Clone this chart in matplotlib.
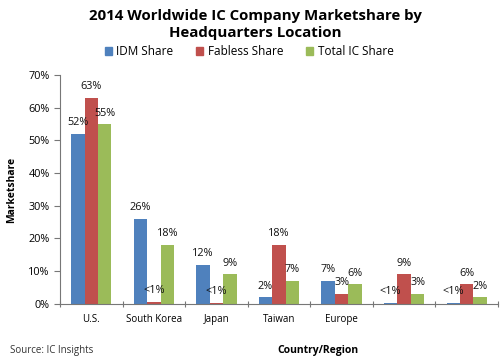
import numpy as np
import matplotlib
matplotlib.use("Agg")
import matplotlib.pyplot as plt
from matplotlib.patches import Patch

plt.rcParams['font.family'] = ['Open Sans', 'DejaVu Sans']

# data
regions = ["U.S.", "South Korea", "Japan", "Taiwan", "Europe", "", ""]
idm = [52, 26, 12, 2, 7, 0.3, 0.3]
fabless = [63, 0.7, 0.3, 18, 3, 9, 6]
total = [55, 18, 9, 7, 6, 3, 2]

idm_lbl = ["52%", "26%", "12%", "2%", "7%", "<1%", "<1%"]
fab_lbl = ["63%", "<1%", "<1%", "18%", "3%", "9%", "6%"]
tot_lbl = ["55%", "18%", "9%", "7%", "6%", "3%", "2%"]

series = [("IDM Share", idm, idm_lbl, "#4F81BD"),
          ("Fabless Share", fabless, fab_lbl, "#C0504D"),
          ("Total IC Share", total, tot_lbl, "#9BBB59")]

fig = plt.figure(figsize=(5.0, 3.63), dpi=100)
ax = fig.add_axes([0.12, 0.163, 0.876, 0.63])

x = np.arange(len(regions))
w = 0.215
for k, (name, vals, lbls, col) in enumerate(series):
    pos = x + (k - 1) * w
    ax.bar(pos, vals, width=w, color=col, label=name)
    for p, v, t in zip(pos, vals, lbls):
        ax.annotate(t, (p, v), xytext=(0, 4), textcoords="offset points",
                    ha="center", va="bottom", fontsize=7.8, color="#111111")

ax.set_xlim(-0.5, len(regions) - 0.5)
ax.set_ylim(0, 0.7 * 100)
ax.set_yticks(np.arange(0, 71, 10))
ax.set_yticklabels(["%d%%" % v for v in range(0, 71, 10)], fontsize=7.8)
ax.set_xticks(np.arange(-0.5, len(regions), 1))
ax.set_xticklabels([])
ax.set_xticks(x, minor=True)
ax.set_xticklabels(regions, minor=True, fontsize=7)
ax.tick_params(axis="x", which="minor", length=0, pad=7)
ax.tick_params(axis="x", which="major", length=4, direction="inout", color="#777777")
ax.tick_params(axis="y", length=4, color="#777777")
for s in ["top", "right"]:
    ax.spines[s].set_visible(False)
ax.spines["left"].set_color("#777777")
ax.spines["bottom"].set_color("#777777")

ax.set_ylabel("Marketshare", fontsize=7.5, fontweight="bold", labelpad=8)
fig.text(0.636, 0.027, "Country/Region", fontsize=7.5, fontweight="bold", ha="center")
fig.text(0.02, 0.027, "Source: IC Insights", fontsize=7, color="#333333")

fig.text(0.51, 0.975, "2014 Worldwide IC Company Marketshare by\nHeadquarters Location",
         ha="center", va="top", fontsize=10.8, fontweight="bold", linespacing=1.25)

handles = [Patch(color=c) for _, _, _, c in series]
fig.legend(handles, [s[0] for s in series], loc="center", bbox_to_anchor=(0.498, 0.858),
           ncol=3, frameon=False, fontsize=8.5, handlelength=0.6, handleheight=0.6,
           handletextpad=0.4, columnspacing=1.9)

fig.savefig("out.png", dpi=100)
